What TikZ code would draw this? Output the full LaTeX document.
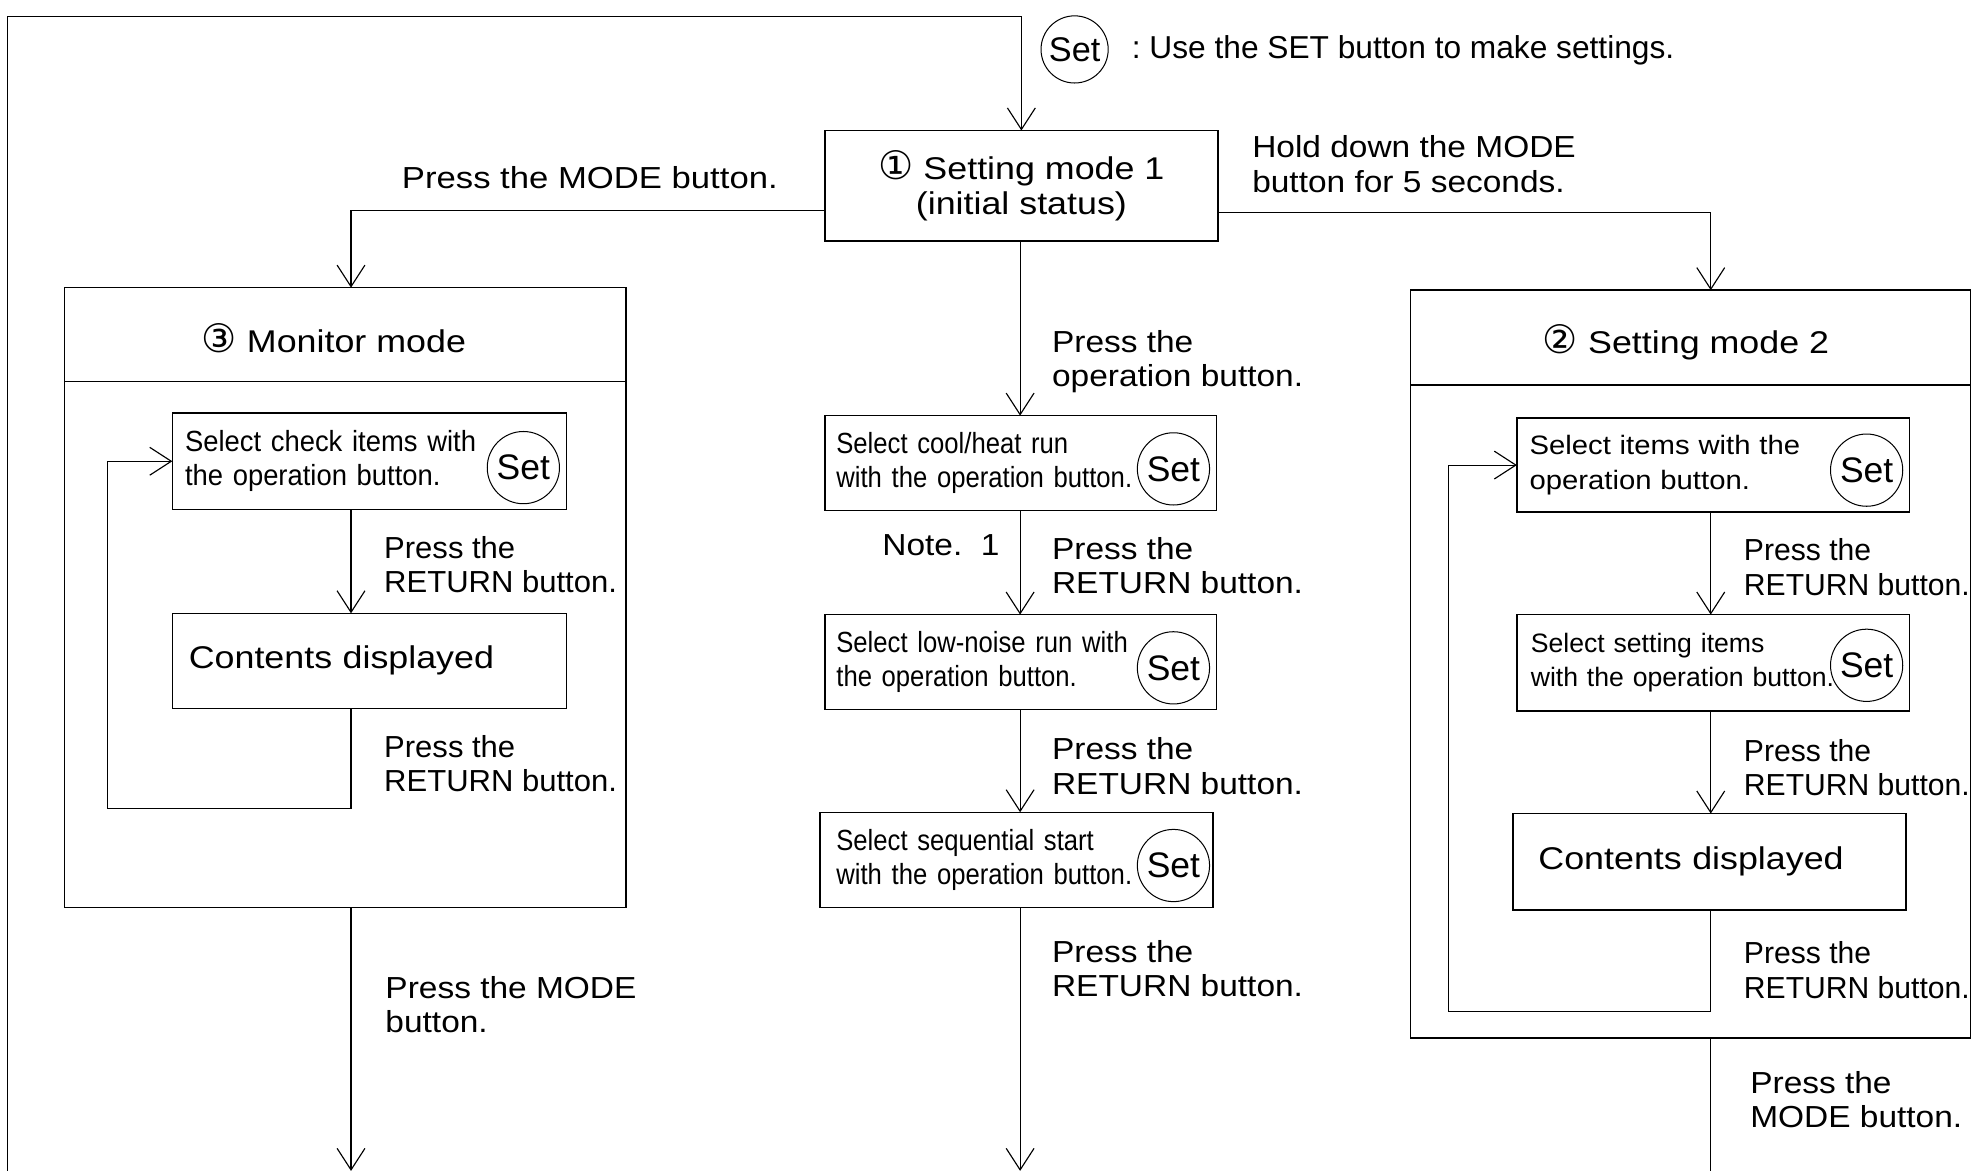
\documentclass[tikz,border=0pt]{standalone}
\usepackage{fontspec}
\setmainfont{Liberation Sans}
\newfontfamily\lblf[FakeStretch=1.1]{Liberation Sans}
\newfontfamily\lblnf[FakeStretch=1.02]{Liberation Sans}
\newfontfamily\lblrf[FakeStretch=0.99]{Liberation Sans}
\newfontfamily\ttlf[FakeStretch=1.14]{Liberation Sans}
\newfontfamily\bxnf[FakeStretch=0.88]{Liberation Sans}
\newfontfamily\bxmf[FakeStretch=0.94]{Liberation Sans}
\newfontfamily\bxwf[FakeStretch=1.1]{Liberation Sans}
\newfontfamily\symf{DejaVu Sans}
\usetikzlibrary{arrows.meta}
\frenchspacing
\begin{document}
\begin{tikzpicture}[x=1pt,y=-1pt,
  conn/.style={line width=0.9pt},
  arr/.style={conn,-{Straight Barb[length=17pt,width=22pt,line width=0.9pt]}},
  frame/.style={draw,line width=1.2pt,inner sep=0pt,outer sep=0pt},
  inbox/.style={frame,align=left,inner ysep=0pt},
  lbl/.style={font=\lblf\fontsize{24}{27}\selectfont,align=left,inner sep=0pt,anchor=west},
  lbln/.style={lbl,font=\lblnf\fontsize{24}{27}\selectfont},
  lblr/.style={lbl,font=\lblrf\fontsize{24}{27}\selectfont},
  ttl/.style={font=\ttlf\fontsize{24.8}{27}\selectfont,align=center,inner sep=0pt},
  setc/.style={draw,circle,line width=0.8pt,minimum size=57pt,inner sep=0pt,font=\fontsize{28}{28}\selectfont},
]
\useasboundingbox (0,0) rectangle (1568,924);

% ---------- top: setting mode 1 and legend
\node[frame,minimum width=310pt,minimum height=87pt,ttl] (sm1) at (806,146.5)
  {{\symf\fontsize{31}{27}\selectfont ①}\ Setting mode 1\\(initial status)};
\coordinate (retL) at (6,924);
\coordinate (topL) at (6,13);
\draw[arr] (retL) -- (topL) -| (sm1.north);

\node[setc,minimum size=53pt,font=\fontsize{27}{27}\selectfont] (legset) at (848,39) {Set};
\node[anchor=west,inner sep=0pt,font=\fontsize{25}{27}\selectfont] (legtxt) at (893,40)
  {: Use the SET button to make settings.};

\node[lbl,font=\ttlf\fontsize{24}{27}\selectfont] (lmode) at (317,140) {Press the MODE button.};
\node[lbl] (lhold) at (988,129.5) {Hold down the MODE\\button for 5 seconds.};
\node[lbl] (lop) at (830,285.5) {Press the\\operation button.};

% ---------- monitor mode
\coordinate (mx) at (277,0);
\node[frame,minimum width=443pt,minimum height=489pt] (mon) at (272.5,471.5) {};
\coordinate (mdivL) at (51,301);
\coordinate (mdivR) at (494,301);
\draw[line width=1.2pt] (mdivL) -- (mdivR);
\node[ttl] (montitle) at (263.5,267) {{\symf\fontsize{31}{27}\selectfont ③}\ Monitor mode};
\draw[arr] ([yshift=-19.5pt]sm1.west) -| (mx |- mon.north);

\node[inbox,minimum width=311pt,minimum height=76pt,text width=291pt,inner xsep=10pt,
  font=\bxmf\fontsize{23}{27}\selectfont] (mb1) at (291.5,364)
  {Select check items with\\the operation button.};
\node[setc] (mset) at (413,369) {Set};
\node[inbox,minimum width=311pt,minimum height=75pt,text width=285pt,inner xsep=13pt,
  font=\ttlf\fontsize{24.8}{27}\selectfont] (mb2) at (291.5,521.5) {Contents displayed};
\draw[arr] (mx |- mb1.south) -- (mx |- mb2.north);
\node[lbln] (lm1) at (303,445.5) {Press the\\RETURN button.};
\coordinate (mlp) at (85,638);
\draw[arr] (mx |- mb2.south) |- (mlp) |- (mb1.west);
\node[lbln] (lm2) at (303,602.5) {Press the\\RETURN button.};
\coordinate (outL) at (277,924);
\draw[arr] (mx |- mon.south) -- (outL);
\node[lbl] (lm3) at (304,792.5) {Press the MODE\\button.};

% ---------- middle column
\coordinate (cx) at (805,0);
\node[inbox,minimum width=309pt,minimum height=75pt,text width=291pt,inner xsep=9pt,
  font=\bxnf\fontsize{23}{27}\selectfont] (ba) at (805.5,365.5)
  {Select cool/heat run\\with the operation button.};
\node[setc] (sa) at (926,370) {Set};
\draw[arr] (cx |- sm1.south) -- (cx |- ba.north);

\node[inbox,minimum width=309pt,minimum height=75pt,text width=291pt,inner xsep=9pt,
  font=\bxnf\fontsize{23}{27}\selectfont] (bb) at (805.5,522.5)
  {Select low-noise run with\\the operation button.};
\node[setc] (sb) at (926,527) {Set};
\draw[arr] (cx |- ba.south) -- (cx |- bb.north);
\node[lbl,anchor=east] (note) at (789,430) {Note.\ \ 1};
\node[lbl] (lc1) at (830,446.5) {Press the\\RETURN button.};

\node[inbox,minimum width=310pt,minimum height=75pt,text width=284pt,inner xsep=13pt,
  font=\bxnf\fontsize{23}{27}\selectfont] (bc) at (802,678.5)
  {Select sequential start\\with the operation button.};
\node[setc] (sc) at (926,683) {Set};
\draw[arr] (cx |- bb.south) -- (cx |- bc.north);
\node[lbl] (lc2) at (830,604.5) {Press the\\RETURN button.};
\coordinate (outM) at (805,924);
\draw[arr] (cx |- bc.south) -- (outM);
\node[lbl] (lc3) at (830,764.5) {Press the\\RETURN button.};

% ---------- setting mode 2
\coordinate (rx) at (1350,0);
\node[frame,minimum width=442pt,minimum height=590pt] (sm2) at (1334,524) {};
\coordinate (rdivL) at (1113,304);
\coordinate (rdivR) at (1555,304);
\draw[line width=1.2pt] (rdivL) -- (rdivR);
\node[ttl] (sm2t) at (1330.5,270) {{\symf\fontsize{31}{27}\selectfont ②}\ Setting mode 2};
\draw[arr] ([yshift=-21.5pt]sm1.east) -| (rx |- sm2.north);

\node[inbox,minimum width=310pt,minimum height=74pt,text width=290pt,inner xsep=10pt,
  font=\bxwf\fontsize{21}{27}\selectfont] (rb1) at (1352,367)
  {Select items with the\\operation button.};
\node[setc] (sr1) at (1473,371) {Set};
\node[inbox,minimum width=310pt,minimum height=76pt,text width=288pt,inner xsep=11pt,
  font=\fontsize{21}{27}\selectfont] (rb2) at (1352,523)
  {Select setting items\\with the operation button.};
\node[setc] (sr2) at (1473,525) {Set};
\draw[arr] (rx |- rb1.south) -- (rx |- rb2.north);
\node[lblr] (lr1) at (1376,447.5) {Press the\\RETURN button.};

\node[inbox,minimum width=310pt,minimum height=76pt,text width=270pt,inner xsep=20pt,
  font=\ttlf\fontsize{24.8}{27}\selectfont] (rb3) at (1349,680) {Contents displayed};
\draw[arr] (rx |- rb2.south) -- (rx |- rb3.north);
\node[lblr] (lr2) at (1376,605.5) {Press the\\RETURN button.};
\coordinate (rlp) at (1143,798);
\draw[arr] (rx |- rb3.south) |- (rlp) |- (rb1.west);
\node[lblr] (lr3) at (1376,765.5) {Press the\\RETURN button.};
\coordinate (outR) at (1350,924);
\draw[conn] (rx |- sm2.south) -- (outR);
\node[lbl] (lr4) at (1381,868) {Press the\\MODE button.};
\end{tikzpicture}
\end{document}
